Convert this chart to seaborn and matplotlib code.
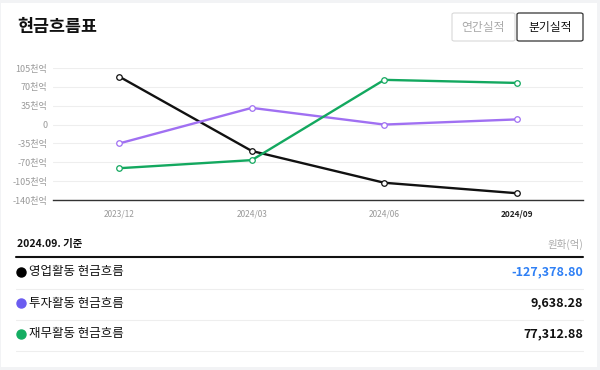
import matplotlib

matplotlib.use("Agg")
import matplotlib.pyplot as plt
import pandas as pd
import seaborn as sns
from matplotlib.patches import FancyBboxPatch, Rectangle

# data (천억 units as shown on the axis)
quarters = ["2023/12", "2024/03", "2024/06", "2024/09"]
operating = [89, -49, -108, -127.4]
investing = [-35, 31, 0, 9.6]
financing = [-81, -66, 83, 77.3]
series_names = ["영업활동 현금흐름", "투자활동 현금흐름", "재무활동 현금흐름"]
line_colors = ["#111111", "#a070f2", "#13a85f"]
dot_colors = ["#000000", "#6b5cf0", "#14ad62"]
latest_values = ["-127,378.80", "9,638.28", "77,312.88"]
value_colors = ["#2f80f5", "#111111", "#111111"]
y_ticks = [105, 70, 35, 0, -35, -70, -105, -140]
y_labels = ["105천억", "70천억", "35천억", "0", "-35천억", "-70천억", "-105천억", "-140천억"]

df = pd.DataFrame({
    "quarter": quarters * 3,
    "x": list(range(len(quarters))) * 3,
    "value": operating + investing + financing,
    "series": [n for n in series_names for _ in quarters],
})

sns.set_theme(style="white")
plt.rcParams["font.family"] = ["Noto Sans CJK KR", "DejaVu Sans"]

W, H = 600, 370
fig = plt.figure(figsize=(6, 3.7), dpi=100)
fig.patch.set_facecolor("#f2f3f5")


def fx(x):
    return x / W


def fy(y):
    return 1 - y / H


# white card behind everything
fig.patches.append(Rectangle((fx(1), fy(367)), fx(596), 364 / H, transform=fig.transFigure,
                             facecolor="white", edgecolor="none", zorder=-10))

ax = fig.add_axes([fx(53), fy(200), fx(583 - 53), (200 - 68) / H])
ax.set_facecolor("white")
sns.lineplot(data=df, x="x", y="value", hue="series", palette=line_colors, linewidth=1.7,
             marker="o", markersize=4, markerfacecolor="white", markeredgewidth=0.9,
             legend=False, ax=ax)
for line, c in zip(ax.lines, line_colors):
    line.set_markeredgecolor(c)

ax.set_xlim(-0.5, 3.5)
ax.set_ylim(-140, 105)
ax.set_yticks(y_ticks)
ax.set_yticklabels(y_labels, fontsize=6.5, color="#9a9a9a")
ax.set_xticks(range(len(quarters)))
ax.set_xticklabels(quarters, fontsize=6, color="#9a9a9a")
ax.get_xticklabels()[-1].set_color("#222222")
ax.get_xticklabels()[-1].set_fontweight("bold")
ax.tick_params(axis="both", length=0, pad=4)
ax.tick_params(axis="x", pad=7)
ax.grid(axis="y", color="#eeeeee", linewidth=0.8)
ax.set_axisbelow(True)
for side in ["top", "right", "left"]:
    ax.spines[side].set_visible(False)
ax.spines["bottom"].set_color("#333333")
ax.spines["bottom"].set_linewidth(1.0)
ax.set_xlabel("")
ax.set_ylabel("")

# header
fig.text(fx(17), fy(27), "현금흐름표", fontsize=12.5, fontweight="bold", color="#111111", va="center")
fig.patches.append(FancyBboxPatch((fx(452), fy(41)), fx(63), 28 / H, boxstyle="round,pad=0,rounding_size=0.004",
                                  transform=fig.transFigure, facecolor="white", edgecolor="#d8d8d8", linewidth=0.8))
fig.patches.append(FancyBboxPatch((fx(517), fy(41)), fx(66), 28 / H, boxstyle="round,pad=0,rounding_size=0.004",
                                  transform=fig.transFigure, facecolor="white", edgecolor="#333333", linewidth=0.9))
fig.text(fx(483.5), fy(27), "연간실적", fontsize=8.5, color="#aaaaaa", ha="center", va="center")
fig.text(fx(550), fy(27), "분기실적", fontsize=8.5, color="#111111", ha="center", va="center")

# table
fig.text(fx(17), fy(244), "2024.09. 기준", fontsize=7.5, fontweight="bold", color="#111111", va="center")
fig.text(fx(583), fy(244), "원화(억)", fontsize=7.5, color="#aaaaaa", ha="right", va="center")
fig.add_artist(plt.Line2D([fx(16), fx(583)], [fy(257), fy(257)], color="#111111", linewidth=1.5))
row_y = [272, 303, 334]
for y, name, dc, val, vc in zip(row_y, series_names, dot_colors, latest_values, value_colors):
    fig.add_artist(plt.Line2D([fx(21)], [fy(y)], marker="o", markersize=6.5, color=dc, linestyle="none"))
    fig.text(fx(29), fy(y), name, fontsize=9, color="#111111", va="center")
    fig.text(fx(583), fy(y), val, fontsize=9, fontweight="bold", color=vc, ha="right", va="center")
    fig.add_artist(plt.Line2D([fx(16), fx(583)], [fy(y + 16.5), fy(y + 16.5)], color="#eeeeee", linewidth=0.8))

fig.savefig("out.png", dpi=100, facecolor=fig.get_facecolor())
